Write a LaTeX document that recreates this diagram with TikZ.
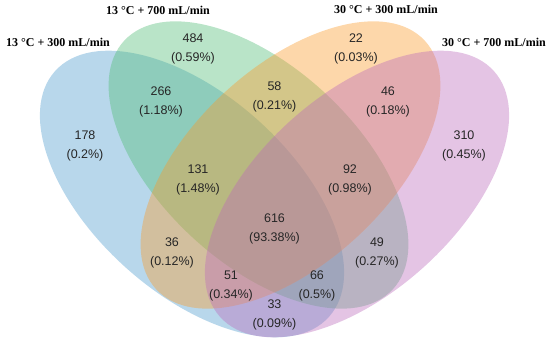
\documentclass[tikz,border=0pt]{standalone}
\usepackage{fontspec}
\setmainfont{Liberation Serif}
\newfontfamily\countfont{Liberation Sans}
\definecolor{setblue}{RGB}{77,155,205}
\definecolor{setgreen}{RGB}{80,187,117}
\definecolor{setorange}{RGB}{250,155,42}
\definecolor{setpurple}{RGB}{187,107,187}
\begin{document}
\begin{tikzpicture}[x=1pt, y=1pt,
    venn/.style={fill opacity=0.4},
    setlabel/.style={font=\bfseries\fontsize{12}{14}\selectfont},
    count/.style={align=center, text=black!85, font=\countfont\fontsize{12.5}{19}\selectfont}]
  \useasboundingbox (0,0) rectangle (550,343);

  % Set 1 (blue)
  \fill[setblue, venn, shift={(192,149)}, rotate=-41.9] (0,0) ellipse (184 and 99);
  % Set 2 (green)
  \fill[setgreen, venn, shift={(258.5,178)}, rotate=-42.8] (0,0) ellipse (183 and 98);
  % Set 3 (orange)
  \fill[setorange, venn, shift={(290.5,178)}, rotate=42.8] (0,0) ellipse (183 and 98);
  % Set 4 (purple)
  \fill[setpurple, venn, shift={(357,149)}, rotate=41.9] (0,0) ellipse (184 and 99);

  % Set names
  \node[setlabel] (lab1) at (58,301) {13 °C + 300 mL/min};
  \node[setlabel] (lab2) at (158,333) {13 °C + 700 mL/min};
  \node[setlabel] (lab3) at (386,334) {30 °C + 300 mL/min};
  \node[setlabel] (lab4) at (494,301) {30 °C + 700 mL/min};

  % Counts, one set only
  \node[count] (n1) at (85,197) {178\\(0.2\%)};
  \node[count] (n2) at (193,294) {484\\(0.59\%)};
  \node[count] (n3) at (356,294) {22\\(0.03\%)};
  \node[count] (n4) at (464,197) {310\\(0.45\%)};

  % Counts, two sets
  \node[count] (n12) at (161,241) {266\\(1.18\%)};
  \node[count] (n23) at (274.5,246) {58\\(0.21\%)};
  \node[count] (n34) at (388,241) {46\\(0.18\%)};
  \node[count] (n13) at (172,90) {36\\(0.12\%)};
  \node[count] (n24) at (377,90) {49\\(0.27\%)};
  \node[count] (n14) at (274.5,28) {33\\(0.09\%)};

  % Counts, three and four sets
  \node[count] (n123) at (198,163) {131\\(1.48\%)};
  \node[count] (n234) at (350,163) {92\\(0.98\%)};
  \node[count] (n134) at (231,57) {51\\(0.34\%)};
  \node[count] (n124) at (317,57) {66\\(0.5\%)};
  \node[count] (n1234) at (274.5,114) {616\\(93.38\%)};
\end{tikzpicture}
\end{document}
